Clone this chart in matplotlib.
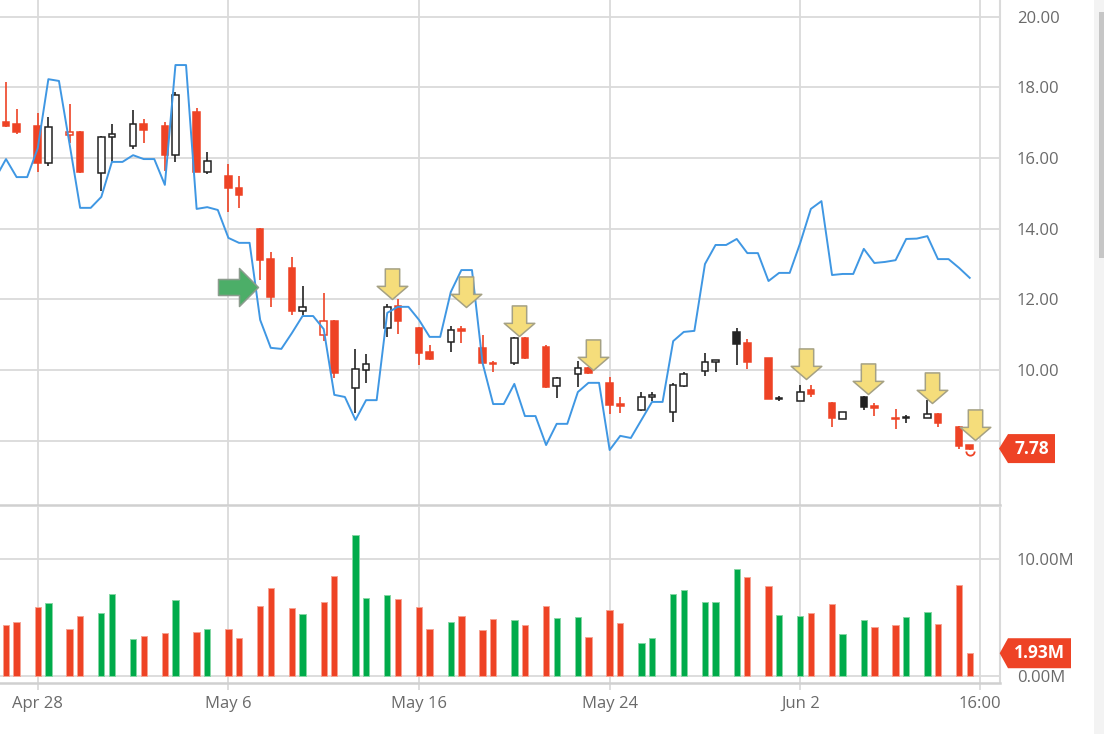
import numpy as np
import matplotlib
matplotlib.use('Agg')
import matplotlib.pyplot as plt
from matplotlib.path import Path
from matplotlib.patches import Polygon, Rectangle
from matplotlib.ticker import FormatStrFormatter, FuncFormatter

plt.rcParams['font.family'] = ['Open Sans', 'DejaVu Sans']

# two sessions per day, every third slot on the time axis stays empty
opens = [17.03, 16.95, 16.91, 15.87, 16.65, 16.73, 15.57, 16.59, 16.35, 16.96,
         16.91, 16.08, 17.31, 15.61, 15.49, 15.16, 13.98, 13.14, 12.88, 11.68,
         10.99, 11.39, 9.48, 10.00, 11.18, 11.81, 11.20, 10.52, 10.79, 11.16,
         10.63, 10.21, 10.19, 10.90, 10.66, 9.56, 9.89, 10.05, 9.63, 9.04,
         8.87, 9.25, 8.81, 9.56, 9.97, 10.22, 11.07, 10.76, 10.33, 9.19,
         9.13, 9.44, 9.08, 8.62, 9.25, 8.98, 8.65, 8.64, 8.64, 8.75,
         8.40, 7.88]
highs = [18.16, 17.38, 17.28, 17.17, 17.52, 16.76, 16.62, 16.95, 17.36, 17.09,
         17.03, 17.86, 17.41, 16.18, 15.82, 15.50, 14.03, 13.35, 13.21, 12.38,
         12.17, 11.42, 10.59, 10.46, 11.87, 12.00, 11.22, 10.71, 11.25, 11.25,
         10.99, 10.26, 10.93, 10.94, 10.71, 9.80, 10.26, 10.09, 9.81, 9.23,
         9.37, 9.39, 9.64, 9.95, 10.49, 10.29, 11.18, 10.88, 10.35, 9.27,
         9.58, 9.58, 9.11, 8.82, 9.27, 9.06, 8.89, 8.73, 9.15, 8.78,
         8.42, 7.88]
lows = [16.88, 16.68, 15.61, 15.77, 16.42, 15.58, 15.07, 15.90, 16.25, 16.42,
        15.64, 15.90, 15.61, 15.55, 14.48, 14.59, 12.55, 11.79, 11.56, 11.56,
        10.83, 9.78, 8.79, 9.64, 10.94, 11.02, 10.14, 10.29, 10.52, 10.76,
        10.19, 9.94, 10.14, 10.31, 9.48, 9.22, 9.53, 9.89, 8.76, 8.78,
        8.84, 9.13, 8.54, 9.53, 9.83, 9.95, 10.14, 10.02, 9.18, 9.13,
        9.13, 9.25, 8.40, 8.62, 8.87, 8.70, 8.32, 8.51, 8.64, 8.40,
        7.76, 7.74]
closes = [16.91, 16.74, 15.87, 16.89, 16.74, 15.60, 16.60, 16.68, 16.95, 16.79,
          16.08, 17.78, 15.61, 15.92, 15.14, 14.95, 13.11, 12.08, 11.67, 11.79,
          11.39, 9.93, 10.02, 10.16, 11.79, 11.39, 10.49, 10.31, 11.13, 11.11,
          10.19, 10.16, 10.90, 10.33, 9.53, 9.79, 10.05, 9.93, 9.01, 8.99,
          9.25, 9.30, 9.58, 9.88, 10.24, 10.29, 10.73, 10.24, 9.18, 9.22,
          9.39, 9.32, 8.64, 8.81, 8.95, 8.93, 8.62, 8.68, 8.75, 8.50,
          7.86, 7.78]
prev_close = 17.05

# volume in millions
volumes = [4.36, 4.59, 5.88, 6.22, 4.01, 5.13, 5.41, 7.02, 3.15, 3.44,
           3.69, 6.50, 3.73, 4.01, 4.01, 3.24, 5.99, 7.56, 5.82, 5.27,
           6.33, 8.57, 12.09, 6.70, 6.91, 6.59, 5.88, 4.01, 4.59, 5.13,
           3.93, 4.87, 4.76, 4.33, 5.99, 4.93, 5.02, 3.30, 5.62, 4.53,
           2.78, 3.26, 6.99, 7.36, 6.31, 6.33, 9.17, 8.51, 7.68, 5.24,
           5.13, 5.39, 6.13, 3.56, 4.76, 4.16, 4.38, 5.04, 5.45, 4.42,
           7.82, 1.93]

# blue comparison line, one value per slot, starting one slot before the first candle
line_vals = [15.43,
             15.97, 15.46, 15.46, 16.28, 18.23, 18.18, 16.40, 14.59, 14.59,
             14.90, 15.89, 15.89, 16.08, 15.97, 15.97, 15.24, 18.63, 18.63,
             14.56, 14.61, 14.53, 13.74, 13.60, 13.60, 11.42, 10.63, 10.60,
             11.05, 11.53, 11.53, 11.16, 9.30, 9.24, 8.59, 9.15, 9.15,
             11.62, 11.79, 11.79, 11.42, 10.94, 10.94, 12.21, 12.83, 12.83,
             10.20, 9.04, 9.04, 9.61, 8.70, 8.70, 7.88, 8.48, 8.48,
             9.38, 9.64, 9.64, 7.74, 8.14, 8.08, 8.59, 9.10, 9.10,
             10.82, 11.08, 11.11, 13.00, 13.54, 13.54, 13.71, 13.31, 13.31,
             12.52, 12.75, 12.75, 13.60, 14.56, 14.78, 12.69, 12.72, 12.72,
             13.43, 13.03, 13.06, 13.11, 13.71, 13.72, 13.79, 13.14, 13.14,
             12.89, 12.61]

tick_pos = [3, 21, 39, 57, 75, 92]
tick_labels = ['Apr 28', 'May 6', 'May 16', 'May 24', 'Jun 2', '16:00']

# signal arrows: slot position and price at the tip
arrow_t = [36.45, 43.45, 48.4, 55.4, 75.5, 81.4, 87.4, 91.5]
arrow_tip = [12.01, 11.79, 10.96, 10.00, 9.75, 9.32, 9.07, 8.02]
buy_t, buy_tip = 23.75, 12.35
note_t, note_price = 91, 7.71

RED = '#EE4325'
BLACK = '#222222'
GREEN = '#00AB4A'
BLUE = '#3F97E3'
GRID = '#DADADA'
TEXT = '#6A6A6A'

W, H = 1104, 734
fig = plt.figure(figsize=(W / 100, H / 100), dpi=100)
ax = fig.add_axes([0, (H - 505) / H, 1000 / W, 505 / H])
axv = fig.add_axes([0, (H - 683) / H, 1000 / W, 176 / H])

slots = np.array([3 * (i // 2) + i % 2 for i in range(len(closes))])
prevs = [prev_close] + closes[:-1]

for a in (ax, axv):
    a.set_xlim(-0.567, 93.86)
    a.set_xticks(tick_pos)
    a.grid(True, color=GRID, lw=1.3)
    a.set_axisbelow(True)
    a.yaxis.tick_right()
    a.spines['top'].set_visible(False)
    a.spines['left'].set_visible(False)
    a.spines['right'].set_color(GRID)
    a.spines['right'].set_linewidth(1.5)
    a.spines['bottom'].set_color('#D0D0D0')
    a.spines['bottom'].set_linewidth(1.8)
    a.tick_params(axis='y', length=0, pad=12, labelsize=12, labelcolor=TEXT)

last = closes[-1]
ax.set_ylim(6.184, 20.47)
ax.set_yticks(np.arange(8, 21, 2))
# the level under the last-price tag is covered by it
ax.yaxis.set_major_formatter(FuncFormatter(
    lambda v, pos: '' if abs(v - last) < 0.5 else f'{v:.2f}'))
ax.tick_params(axis='x', length=0, labelbottom=False)

axv.set_ylim(-0.627, 14.49)
axv.set_yticks([0, 10])
axv.yaxis.set_major_formatter(FormatStrFormatter('%.2fM'))
axv.set_xticklabels(tick_labels)
axv.tick_params(axis='x', length=5, width=1.3, color=GRID, pad=4,
                labelsize=12, labelcolor=TEXT)

# candles
for t, o, h, l, c, p in zip(slots, opens, highs, lows, closes, prevs):
    col = BLACK if c >= p else RED
    hollow = c >= o
    ax.vlines(t, l, h, color=col, lw=1.2, zorder=3)
    ax.bar(t, max(abs(c - o), 0.02), bottom=min(o, c), width=0.62,
           facecolor='white' if hollow else col, edgecolor=col,
           linewidth=1.1, zorder=4)

ax.plot(np.arange(-1, len(line_vals) - 1), line_vals, color=BLUE, lw=1.4, zorder=5)

# arrows
down = Path([(0, 0), (1, 0.86), (0.47, 0.86), (0.47, 2), (-0.47, 2),
             (-0.47, 0.86), (-1, 0.86), (0, 0)],
            [Path.MOVETO] + [Path.LINETO] * 6 + [Path.CLOSEPOLY])
right = Path([(0, 0), (-0.95, 0.95), (-0.95, 0.4), (-2, 0.4), (-2, -0.4),
              (-0.95, -0.4), (-0.95, -0.95), (0, 0)],
             [Path.MOVETO] + [Path.LINETO] * 6 + [Path.CLOSEPOLY])
ax.plot(arrow_t, arrow_tip, ls='none', marker=down, markersize=44,
        markerfacecolor='#F5DD7B', markeredgecolor='#A5A184', markeredgewidth=1.1,
        zorder=6, clip_on=False)
ax.plot([buy_t], [buy_tip], ls='none', marker=right, markersize=57.6,
        markerfacecolor='#4CAE68', markeredgecolor='#8C9C8E', markeredgewidth=1.1,
        zorder=6)
smile = Path.arc(180, 360)
ax.plot([note_t], [note_price], ls='none', marker=smile, markersize=6,
        markerfacecolor='none', markeredgecolor=RED, markeredgewidth=1.3, zorder=6)

# volume
vcols = [GREEN if c > p else RED for c, p in zip(closes, prevs)]
vedges = ['#86D7A4' if c == GREEN else '#F6A393' for c in vcols]
axv.bar(slots, volumes, width=0.6, color=vcols, edgecolor=vedges, linewidth=0.7, zorder=3)

# last value tags
hh = 14.5 / 35.35
ax.add_patch(Polygon([(0.999, last), (1.008, last + hh), (1.055, last + hh),
                      (1.055, last - hh), (1.008, last - hh)], closed=True,
                     transform=ax.get_yaxis_transform(), facecolor=RED,
                     edgecolor='none', clip_on=False, zorder=10))
ax.text(1.0315, last, f'{last:.2f}', transform=ax.get_yaxis_transform(),
        ha='center', va='center', color='white', fontsize=12.5,
        fontweight='bold', zorder=11, clip_on=False)

vh = 15 / 11.64
lv = volumes[-1]
axv.add_patch(Polygon([(0.9997, lv), (1.008, lv + vh), (1.071, lv + vh),
                       (1.071, lv - vh), (1.008, lv - vh)], closed=True,
                      transform=axv.get_yaxis_transform(), facecolor=RED,
                      edgecolor='none', clip_on=False, zorder=10))
axv.text(1.0395, lv, f'{lv:.2f}M', transform=axv.get_yaxis_transform(),
         ha='center', va='center', color='white', fontsize=12.5,
         fontweight='bold', zorder=11, clip_on=False)

# scrollbar at the right edge
fig.patches.append(Rectangle((1094 / W, 0), 10 / W, 1, transform=fig.transFigure,
                             facecolor='#F3F3F3', edgecolor='none'))
fig.patches.append(Rectangle((1099 / W, (H - 258) / H), 5 / W, 246 / H,
                             transform=fig.transFigure, facecolor='#C6C6C6',
                             edgecolor='none'))

fig.savefig('out.png', dpi=100)
